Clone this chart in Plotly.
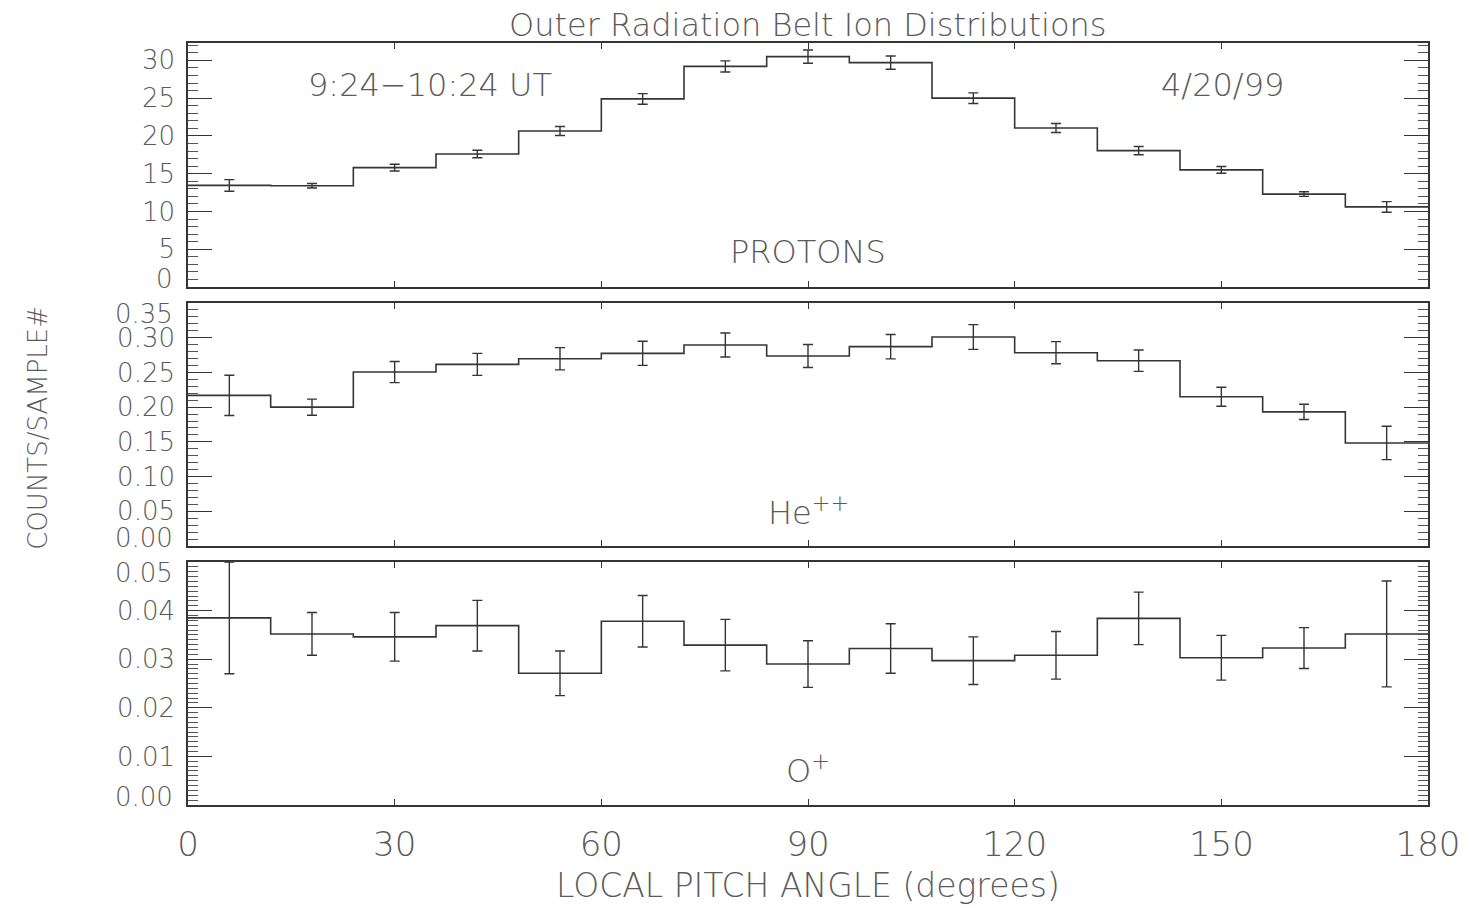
import plotly.graph_objects as go
from plotly.subplots import make_subplots

# Pitch-angle bins (degrees)
pitch_edges = [0, 12, 24, 36, 48, 60, 72, 84, 96, 108, 120, 132, 144, 156, 168, 180]
pitch_centers = [6, 18, 30, 42, 54, 66, 78, 90, 102, 114, 126, 138, 150, 162, 174]

# Counts per sample for each species, with 1-sigma uncertainties
protons = [13.45, 13.4, 15.8, 17.6, 20.65, 24.9, 29.2, 30.5, 29.7, 25.0, 21.05, 18.05, 15.5, 12.3, 10.6]
protons_err = [0.77, 0.3, 0.45, 0.5, 0.6, 0.7, 0.73, 0.88, 0.88, 0.7, 0.6, 0.55, 0.45, 0.3, 0.7]

helium = [0.217, 0.200, 0.2505, 0.2616, 0.2697, 0.2775, 0.2895, 0.2736, 0.2871, 0.3010,
          0.2784, 0.2669, 0.2149, 0.1932, 0.1484]
helium_err = [0.029, 0.0116, 0.0152, 0.0159, 0.016, 0.0173, 0.0173, 0.0166, 0.0176, 0.0178,
              0.016, 0.0154, 0.0137, 0.011, 0.024]

oxygen = [0.0385, 0.0352, 0.0346, 0.0369, 0.0271, 0.0378, 0.0329, 0.0290, 0.0322, 0.0297,
          0.0308, 0.0384, 0.0303, 0.0323, 0.0352]
oxygen_err = [0.0115, 0.0044, 0.005, 0.0052, 0.0046, 0.0053, 0.0053, 0.0048, 0.0051, 0.0049,
              0.0049, 0.0054, 0.0046, 0.0042, 0.0109]

x_ticks = [0, 30, 60, 90, 120, 150, 180]
proton_ticks = [0, 5, 10, 15, 20, 25, 30]
helium_ticks = [0.0, 0.05, 0.10, 0.15, 0.20, 0.25, 0.30, 0.35]
oxygen_ticks = [0.0, 0.01, 0.02, 0.03, 0.04, 0.05]

LINE = "#353535"
TEXT = "#5a5a5a"
FONT = "DejaVu Sans"
TICK_FONT = dict(family=FONT, size=26, color=TEXT, weight=200)

fig = make_subplots(rows=3, cols=1, shared_xaxes=False, vertical_spacing=0.0)

panels = [
    (protons, protons_err, 1),
    (helium, helium_err, 2),
    (oxygen, oxygen_err, 3),
]
for vals, errs, row in panels:
    # histogram outline: each bin level held across its 12-degree width
    step_y = list(vals) + [vals[-1]]
    fig.add_trace(go.Scatter(x=pitch_edges, y=step_y, mode="lines",
                             line=dict(color=LINE, width=1.6, shape="hv"),
                             showlegend=False, hoverinfo="skip"), row=row, col=1)
    fig.add_trace(go.Scatter(x=pitch_centers, y=vals, mode="markers",
                             marker=dict(size=1, color=LINE, opacity=0),
                             error_y=dict(type="data", array=errs, visible=True,
                                          color=LINE, thickness=1.4, width=5),
                             showlegend=False), row=row, col=1)

domains = [[0.6798, 1.0], [0.3399, 0.6588], [0.0, 0.3189]]
yranges = [[0, 32.3], [0, 0.35], [0, 0.05]]
all_ticks = [proton_ticks, helium_ticks, oxygen_ticks]
formats = ["%d", "%.2f", "%.2f"]
minors = [1, 0.01, 0.001]

# Ticks on a panel edge coincide with the frame, so their labels are placed
# as annotations, nudged inward so that neighbouring panels do not collide.
edge_labels = []
inner_vals = []
inner_text = []
for i in range(3):
    ticks = all_ticks[i]
    fmt = formats[i]
    lo, hi = ticks[0], ticks[-1]
    edge_labels.append((fmt % lo, domains[i][0] + 0.0105))
    if hi >= yranges[i][1] - 1e-9:
        edge_labels.append((fmt % hi, domains[i][1] - 0.0150))
        mids = ticks[1:-1]
    else:
        mids = ticks[1:]
    inner_vals.append(mids)
    inner_text.append([fmt % v for v in mids])

for i in range(3):
    r = i + 1
    fig.update_yaxes(row=r, col=1, domain=domains[i], range=yranges[i],
                     tickmode="array", tickvals=inner_vals[i], ticktext=inner_text[i],
                     ticks="inside", ticklen=24, tickwidth=1.3, tickcolor=LINE,
                     minor=dict(dtick=minors[i], ticks="inside", ticklen=10,
                                tickwidth=1.1, tickcolor="#555555", showgrid=False),
                     showline=True, linecolor=LINE, linewidth=1.6, mirror="allticks",
                     showgrid=False, zeroline=False,
                     tickfont=TICK_FONT, ticklabelstandoff=6)
    fig.update_xaxes(row=r, col=1, range=[0, 180],
                     tickmode="array", tickvals=x_ticks,
                     ticks="inside", ticklen=6, tickwidth=1.3, tickcolor=LINE,
                     showline=True, linecolor=LINE, linewidth=1.6, mirror="allticks",
                     showgrid=False, zeroline=False,
                     showticklabels=(r == 3),
                     tickfont=dict(family=FONT, size=34, color=TEXT, weight=200),
                     ticklabelstandoff=8)

for text, ypos in edge_labels:
    fig.add_annotation(text=text, x=-0.0105, y=ypos, xref="paper", yref="paper",
                       showarrow=False, xanchor="right", yanchor="middle", font=TICK_FONT)

ann_font = dict(family=FONT, size=32, color=TEXT, weight=200)
annotations = [
    dict(text="9:24\u221210:24 UT", x=35.1, y=26.75, xref="x", yref="y"),
    dict(text="4/20/99", x=150.1, y=26.75, xref="x", yref="y"),
    dict(text="PROTONS", x=90, y=4.6, xref="x", yref="y"),
    dict(text="He<sup>++</sup>", x=90, y=0.05, xref="x2", yref="y2"),
    dict(text="O<sup>+</sup>", x=90, y=0.0075, xref="x3", yref="y3"),
]
for a in annotations:
    fig.add_annotation(showarrow=False, font=ann_font, xanchor="center", yanchor="middle", **a)

fig.add_annotation(text="Outer Radiation Belt Ion Distributions", x=0.5, y=1.0236,
                   xref="paper", yref="paper", showarrow=False, xanchor="center",
                   yanchor="middle", font=dict(family=FONT, size=32, color=TEXT, weight=200))
fig.add_annotation(text="LOCAL PITCH ANGLE (degrees)", x=0.5, y=-0.106,
                   xref="paper", yref="paper", showarrow=False, xanchor="center",
                   yanchor="middle", font=dict(family=FONT, size=33, color=TEXT, weight=200))
fig.add_annotation(text="COUNTS/SAMPLE#", x=-0.121, y=0.495, textangle=-90,
                   xref="paper", yref="paper", showarrow=False, xanchor="center",
                   yanchor="middle", font=dict(family=FONT, size=26, color=TEXT, weight=200))

fig.update_layout(width=1482, height=906,
                  margin=dict(l=188, r=54, t=43, b=101),
                  paper_bgcolor="white", plot_bgcolor="white",
                  showlegend=False)

fig.write_html("out.html")
